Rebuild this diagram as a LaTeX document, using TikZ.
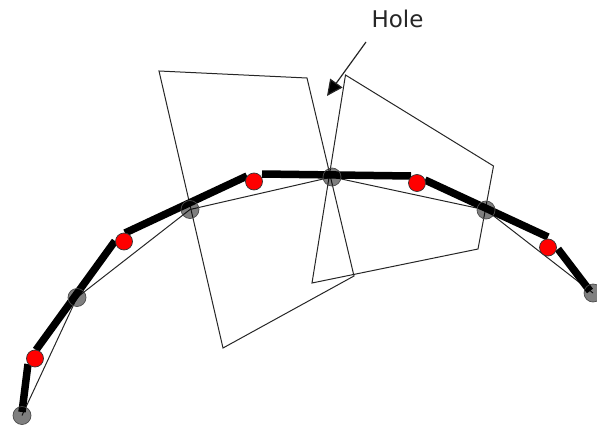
\documentclass[tikz,border=0pt]{standalone}
\usepackage{fontspec}
\setmainfont{DejaVu Sans}
\usetikzlibrary{arrows.meta}
\tikzset{
  hub/.style={circle,draw=black!70,line width=.7pt,fill=black,fill opacity=.5,draw opacity=1,minimum size=18pt,inner sep=0pt},
  midpt/.style={circle,draw=black!80,line width=.7pt,fill=red,minimum size=17pt,inner sep=0pt},
  thinl/.style={line width=1pt,draw=black!85},
  thickl/.style={line width=7.5pt,draw=black},
  callout/.style={line width=1.2pt,draw=black!85,-{Triangle[length=16pt,width=15pt,fill=black]}}
}
\begin{document}
\begin{tikzpicture}[x=1pt,y=-1pt]
\useasboundingbox (0,0) rectangle (597,428);
% quadrilaterals
\coordinate (a1) at (159,71);\coordinate (a2) at (307,78);\coordinate (a3) at (354,276);\coordinate (a4) at (223,348);
\coordinate (b1) at (345.5,75);\coordinate (b2) at (493.5,166);\coordinate (b3) at (478,249);\coordinate (b4) at (312,283);
\draw[thinl] (a1)--(a2)--(a3)--(a4)--cycle;
\draw[thinl] (b1)--(b2)--(b3)--(b4)--cycle;
% thin chords
\coordinate (g1) at (22,415.5);\coordinate (g2) at (77,297.5);\coordinate (g3) at (190,209.5);
\coordinate (g4) at (332,177);\coordinate (g5) at (486,210);\coordinate (g6) at (593,293);
\draw[thinl] (g1)--(g2)--(g3)--(g4)--(g5)--(g6);
% thick segments
\coordinate (t1a) at (22,412);\coordinate (t1b) at (28,364);
\coordinate (t2a) at (36,350);\coordinate (t2b) at (115,241);
\coordinate (t3a) at (125,233);\coordinate (t3b) at (247,176);
\coordinate (t4a) at (262,174);\coordinate (t4b) at (411,176);
\coordinate (t5a) at (425,180);\coordinate (t5b) at (548,237);
\coordinate (t6a) at (558,249);\coordinate (t6b) at (590,291);
\draw[thickl] (t1a)--(t1b);
\draw[thickl] (t2a)--(t2b);
\draw[thickl] (t3a)--(t3b);
\draw[thickl] (t4a)--(t4b);
\draw[thickl] (t5a)--(t5b);
\draw[thickl] (t6a)--(t6b);
% nodes
\node[hub] (h1) at (g1) {};
\node[hub] (h2) at (g2) {};
\node[hub] (h3) at (g3) {};
\node[hub] (h4) at (g4) {};
\node[hub] (h5) at (g5) {};
\node[hub] (h6) at (g6) {};
\node[midpt] (r1) at (35,358.5) {};
\node[midpt] (r2) at (124,241.5) {};
\node[midpt] (r3) at (254,181.5) {};
\node[midpt] (r4) at (417,183) {};
\node[midpt] (r5) at (548,247.5) {};
% label
\node[font=\fontsize{23pt}{26pt}\selectfont,text=black!85] (hole) at (397.5,18.5) {Hole};
\coordinate (arrS) at (366,42);\coordinate (arrE) at (327,96);
\draw[callout] (arrS)--(arrE);
\end{tikzpicture}
\end{document}
